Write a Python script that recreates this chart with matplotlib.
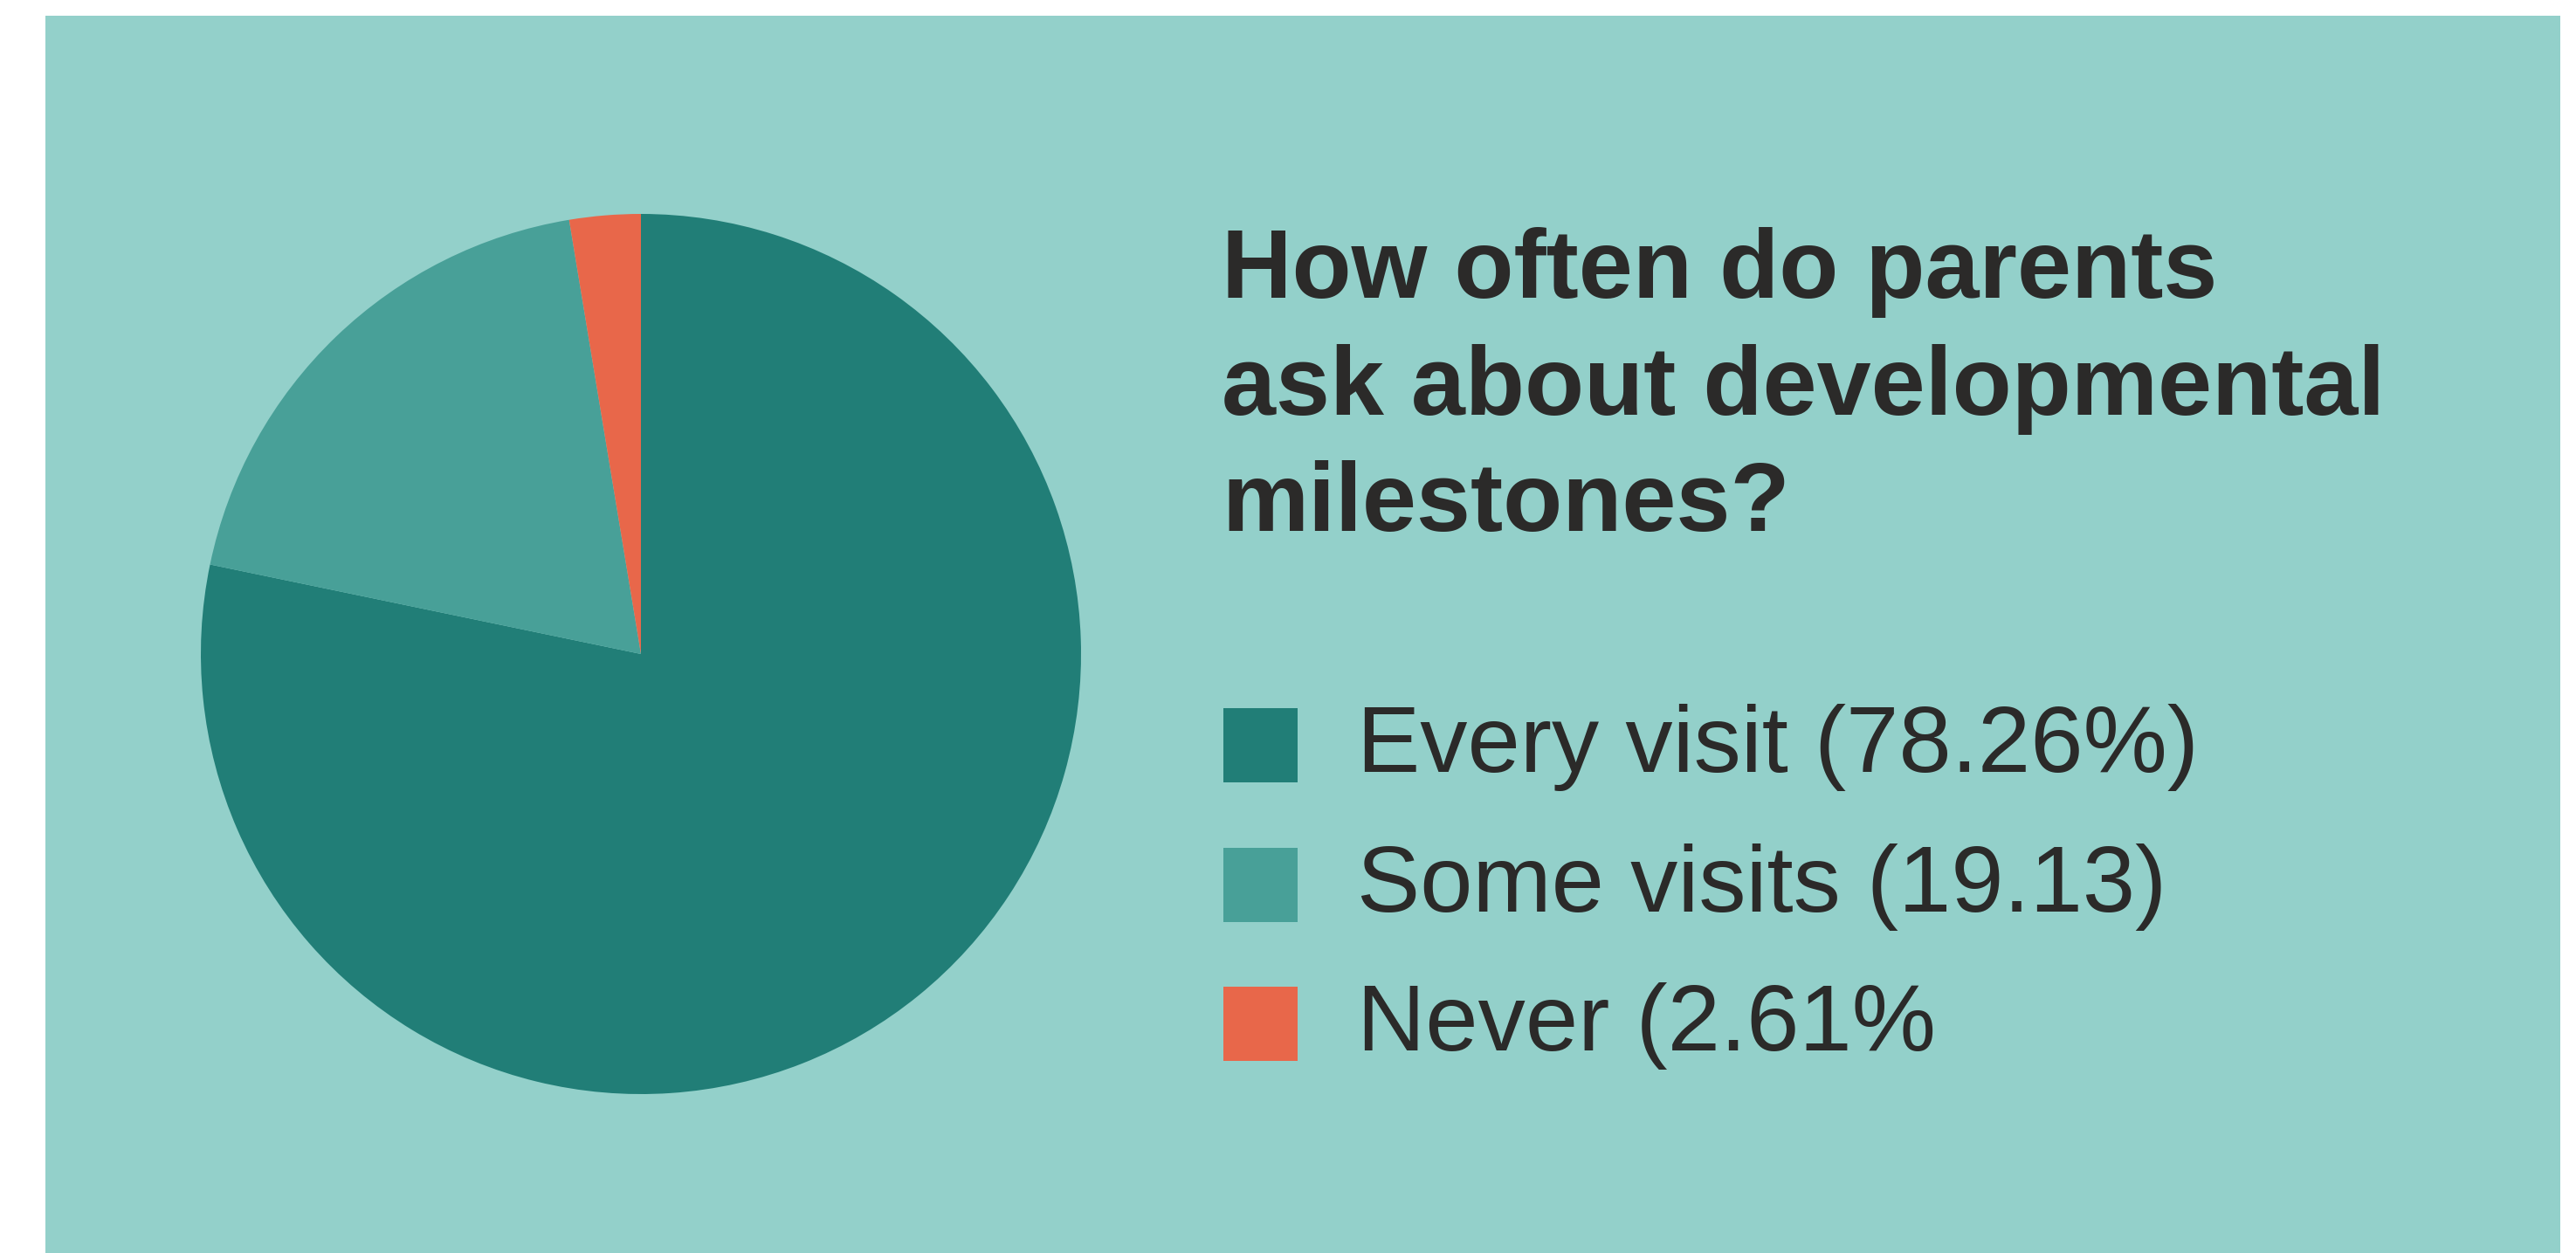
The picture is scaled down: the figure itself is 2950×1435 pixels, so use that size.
import matplotlib
matplotlib.use("Agg")
import matplotlib.pyplot as plt
from matplotlib.patches import Rectangle

# ── Data ─────────────────────────────────────────────────────────────────────

categories = ["Every visit", "Some visits", "Never"]
shares = [78.26, 19.13, 2.61]
legend_labels = ["Every visit (78.26%)", "Some visits (19.13)", "Never (2.61%"]
title_lines = ["How often do parents", "ask about developmental", "milestones?"]

colors = ["#217E77", "#48A098", "#E8674A"]
panel_color = "#93D0CA"
text_color = "#2B2A29"

W, H = 2950, 1435
DPI = 100

plt.rcParams["font.family"] = ["Liberation Sans", "DejaVu Sans"]

fig = plt.figure(figsize=(W / DPI, H / DPI), dpi=DPI)
fig.patch.set_facecolor("white")

# overlay in pixel coords (y down) for the panel, legend and title
bg = fig.add_axes([0, 0, 1, 1])
bg.set_xlim(0, W)
bg.set_ylim(H, 0)
bg.axis("off")
bg.add_patch(Rectangle((52, 18), 2932 - 52, H - 18 + 5, color=panel_color, lw=0))

# ── Pie ──────────────────────────────────────────────────────────────────────

cx, cy, r = 734, 749, 504
pie_ax = fig.add_axes([(cx - r) / W, (H - cy - r) / H, 2 * r / W, 2 * r / H])
pie_ax.pie(shares, colors=colors, startangle=90, counterclock=False,
           radius=1, wedgeprops=dict(linewidth=0))
pie_ax.set_xlim(-1, 1)
pie_ax.set_ylim(-1, 1)
pie_ax.set_aspect("equal")
pie_ax.axis("off")

# ── Title ────────────────────────────────────────────────────────────────────

title_x = 1399
title_base = 341
title_step = 133.5
for i, line in enumerate(title_lines):
    bg.text(title_x, title_base + i * title_step, line, fontsize=80.3,
            fontweight="bold", color=text_color, ha="left", va="baseline")

# ── Legend ───────────────────────────────────────────────────────────────────

sq_x, sq_top, sq_size, sq_step = 1401, 811, 85, 159.5
for i, (lab, col) in enumerate(zip(legend_labels, colors)):
    top = sq_top + i * sq_step
    bg.add_patch(Rectangle((sq_x, top), sq_size, sq_size, color=col, lw=0))
    bg.text(1554, top + 73, lab, fontsize=78, color=text_color,
            ha="left", va="baseline")

fig.savefig("out.png", dpi=DPI, facecolor=fig.get_facecolor())
